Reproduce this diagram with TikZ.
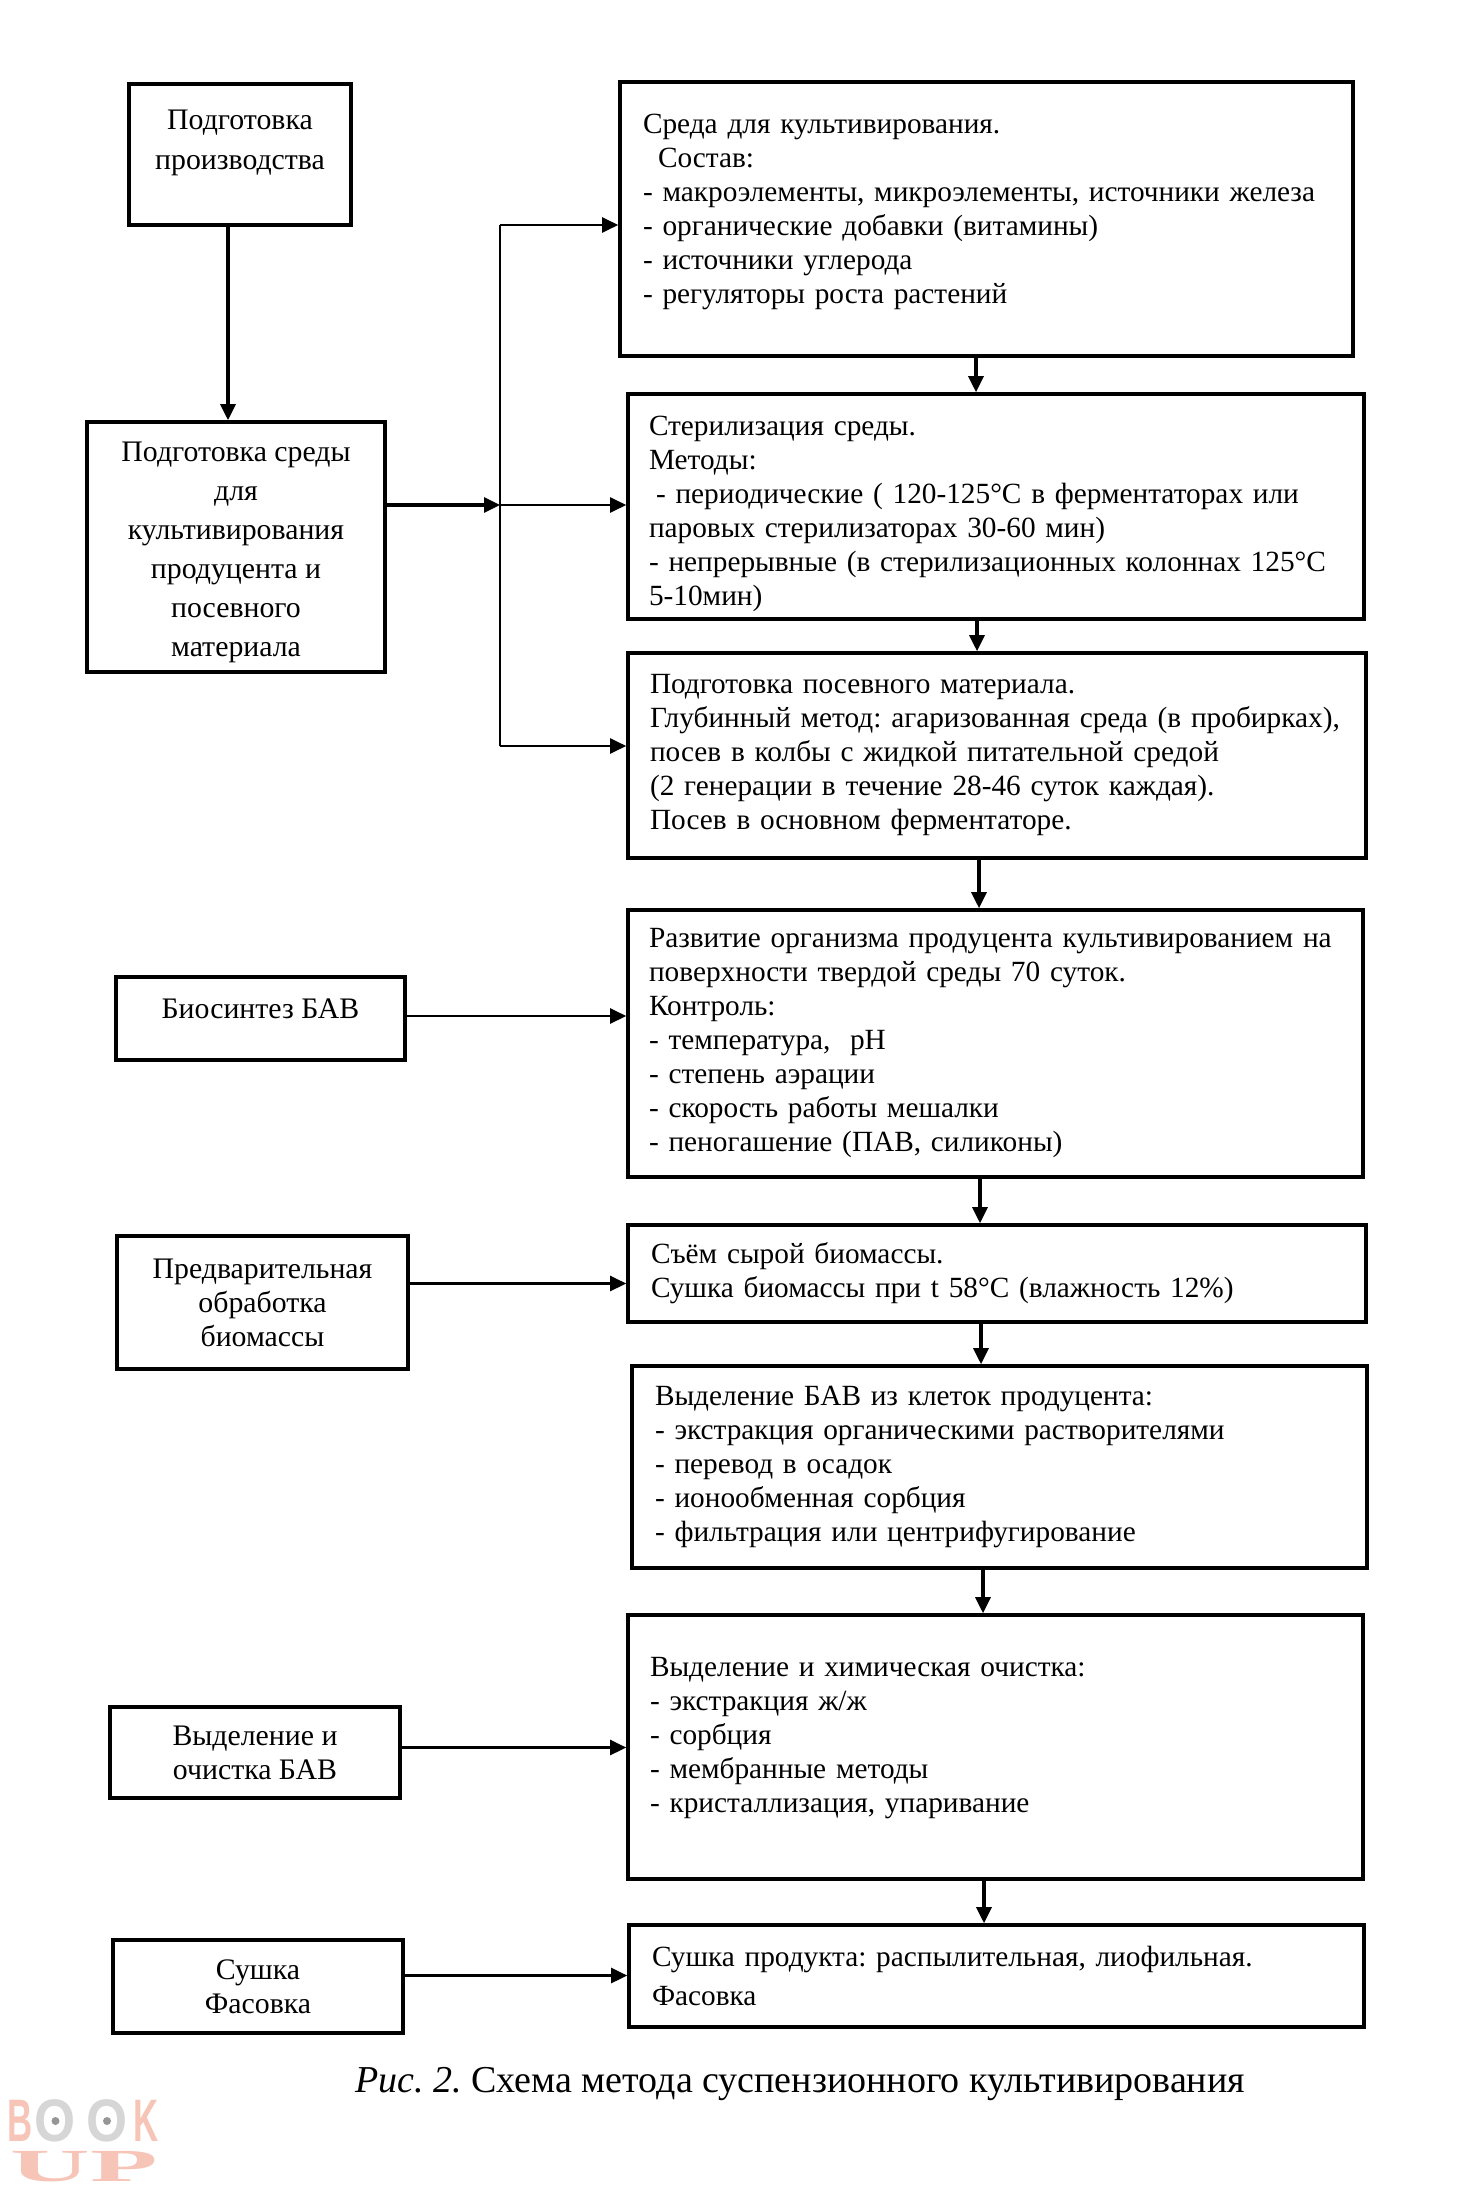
\documentclass[tikz,border=0pt]{standalone}
\usepackage{graphicx}
\usepackage{fontspec}
\setmainfont{Liberation Serif}
\setsansfont{Liberation Sans}
\usetikzlibrary{arrows.meta}
\definecolor{wmpink}{RGB}{247,196,184}
\definecolor{wmgray}{RGB}{214,214,214}
\frenchspacing

\begin{document}
\begin{tikzpicture}[x=1pt, y=-1pt, >={Stealth[length=16pt, width=15pt, inset=0pt]},
  lbox/.style={draw, line width=3.6pt, align=center, inner sep=0pt, font=\fontsize{29.8}{34}\selectfont},
  rbox/.style={draw, line width=3.6pt, align=left, inner xsep=23pt, inner ysep=0pt, font=\fontsize{29.3}{34}\selectfont},
  arr/.style={->, line width=3.2pt},
  wm/.style={inner sep=0pt, text=wmpink, font=\fontsize{60}{60}\selectfont\sffamily\bfseries}]
  \useasboundingbox (0,0) rectangle (1472,2191);

  % left column
  \node[lbox, minimum width=222, minimum height=141, font=\fontsize{29.8}{40}\selectfont] (prod) at (240,154.5)
    {Подготовка\\ производства\\[-11pt] \mbox{}};
  \node[lbox, minimum width=298, minimum height=250, font=\fontsize{29.8}{39}\selectfont] (podsr) at (236,547)
    {\rule{0pt}{31pt}Подготовка среды\\ для\\ культивирования\\ продуцента и\\ посевного\\ материала};
  \node[lbox, minimum width=289, minimum height=83] (bio) at (260.5,1018.5) {Биосинтез БАВ\\[-14pt] \mbox{}};
  \node[lbox, minimum width=291, minimum height=133] (pred) at (262.5,1302.5)
    {Предварительная\\ обработка\\ биомассы};
  \node[lbox, minimum width=290, minimum height=91] (vydl) at (255,1752.5) {Выделение и\\ очистка БАВ};
  \node[lbox, minimum width=290, minimum height=93] (fas) at (258,1986.5) {Сушка\\ Фасовка};

  % right column
  \node[rbox, text width=687, minimum height=274] (sreda) at (986.5,219)
    {Среда для культивирования.\\ \hspace*{15pt}Состав:\\ - макроэлементы, микроэлементы, источники железа\\
     - органические добавки (витамины)\\ - источники углерода\\ - регуляторы роста растений\\[-14pt] \mbox{}};
  \node[rbox, inner xsep=21pt, text width=694, minimum height=225] (steril) at (996,506.5)
    {\rule{0pt}{34pt}Стерилизация среды.\\ Методы:\\ \hspace*{7pt}- периодические ( 120-125°С в ферментаторах или\\
     паровых стерилизаторах 30-60 мин)\\ - непрерывные (в стерилизационных колоннах 125°С\\ 5-10мин)};
  \node[rbox, inner xsep=22pt, text width=694, minimum height=205] (posev) at (997,755.5)
    {Подготовка посевного материала.\\ Глубинный метод: агаризованная среда (в пробирках),\\
     посев в колбы с жидкой питательной средой\\ (2 генерации в течение 28-46 суток каждая).\\
     Посев в основном ферментаторе.};
  \node[rbox, inner xsep=21pt, text width=693, minimum height=267] (razv) at (995.5,1043.5)
    {Развитие организма продуцента культивированием на\\ поверхности твердой среды 70 суток.\\ Контроль:\\
     - температура,\ \ рН\\ - степень аэрации\\ - скорость работы мешалки\\ - пеногашение (ПАВ, силиконы)};
  \node[rbox, text width=692, minimum height=97] (sem) at (997,1273.5)
    {Съём сырой биомассы.\\ Сушка биомассы при t 58°С (влажность 12\%)};
  \node[rbox, text width=689, minimum height=202] (vyd) at (999.5,1467)
    {Выделение БАВ из клеток продуцента:\\ - экстракция органическими растворителями\\ - перевод в осадок\\
     - ионообменная сорбция\\ - фильтрация или центрифугирование};
  \node[rbox, inner xsep=22pt, text width=691, minimum height=264] (chist) at (995.5,1747)
    {Выделение и химическая очистка:\\ - экстракция ж/ж\\ - сорбция\\ - мембранные методы\\
     - кристаллизация, упаривание\\[-10pt] \mbox{}};
  \node[rbox, text width=689, minimum height=102, font=\fontsize{29.3}{39}\selectfont] (sush) at (996.5,1976)
    {Сушка продукта: распылительная, лиофильная.\\ Фасовка};

  % caption
  \node[inner sep=0pt, anchor=west, font=\fontsize{38}{44}\selectfont] (cap) at (355,2084)
    {\textit{Рис. 2.} Схема метода суспензионного культивирования};

  % watermark
  \node[wm] (wb) at (20.5,2121) {\scalebox{.58}[1]{B}};
  \node[wm, text=wmgray] (wo1) at (55.5,2121) {\scalebox{.88}[1]{O}};
  \node[wm, text=wmgray] (wo2) at (107,2121) {\scalebox{.88}[1]{O}};
  \node[wm] (wk) at (146.5,2121) {\scalebox{.58}[1]{K}};
  \node[wm, font=\fontsize{46}{46}\selectfont\rmfamily\bfseries] (wup) at (84,2167) {\scalebox{2.4}[1]{UP}};
  \fill[wmgray!70!black] (wo1) circle (4);
  \fill[wmgray!70!black] (wo2) circle (4);

  % connectors
  \coordinate (trunk) at (500,505);
  \coordinate (trunktop) at (500,225);
  \coordinate (trunkbot) at (500,746);
  \draw[arr] ([xshift=-12]prod.south) -- ([xshift=-8]podsr.north);
  \draw[arr] ([yshift=42]podsr.east) -- (trunk);
  \draw[line width=2pt] (trunktop) -- (trunkbot);
  \draw[->, line width=2pt] (trunktop) -- (trunktop -| sreda.west);
  \draw[->, line width=2pt] (trunk) -- (trunk -| steril.west);
  \draw[->, line width=2pt] (trunkbot) -- (trunkbot -| posev.west);
  \draw[arr] ([xshift=-10.5]sreda.south) -- ([xshift=-20]steril.north);
  \draw[arr] ([xshift=-19]steril.south) -- ([xshift=-20]posev.north);
  \draw[arr] ([xshift=-18]posev.south) -- ([xshift=-16.5]razv.north);
  \draw[arr] ([xshift=-15.5]razv.south) -- ([xshift=-17]sem.north);
  \draw[arr] ([xshift=-16]sem.south) -- ([xshift=-18.5]vyd.north);
  \draw[arr] ([xshift=-16.5]vyd.south) -- ([xshift=-12.5]chist.north);
  \draw[arr] ([xshift=-11.5]chist.south) -- ([xshift=-12.5]sush.north);
  \draw[->, line width=2.4pt] ([yshift=2.5]bio.east) -- ([yshift=2.5]bio.east -| razv.west);
  \draw[->, line width=2.4pt] ([yshift=19]pred.east) -- ([yshift=19]pred.east -| sem.west);
  \draw[->, line width=2.4pt] ([yshift=5]vydl.east) -- ([yshift=5]vydl.east -| chist.west);
  \draw[->, line width=2.4pt] ([yshift=11]fas.east) -- ([yshift=11]fas.east -| sush.west);
\end{tikzpicture}
\end{document}
